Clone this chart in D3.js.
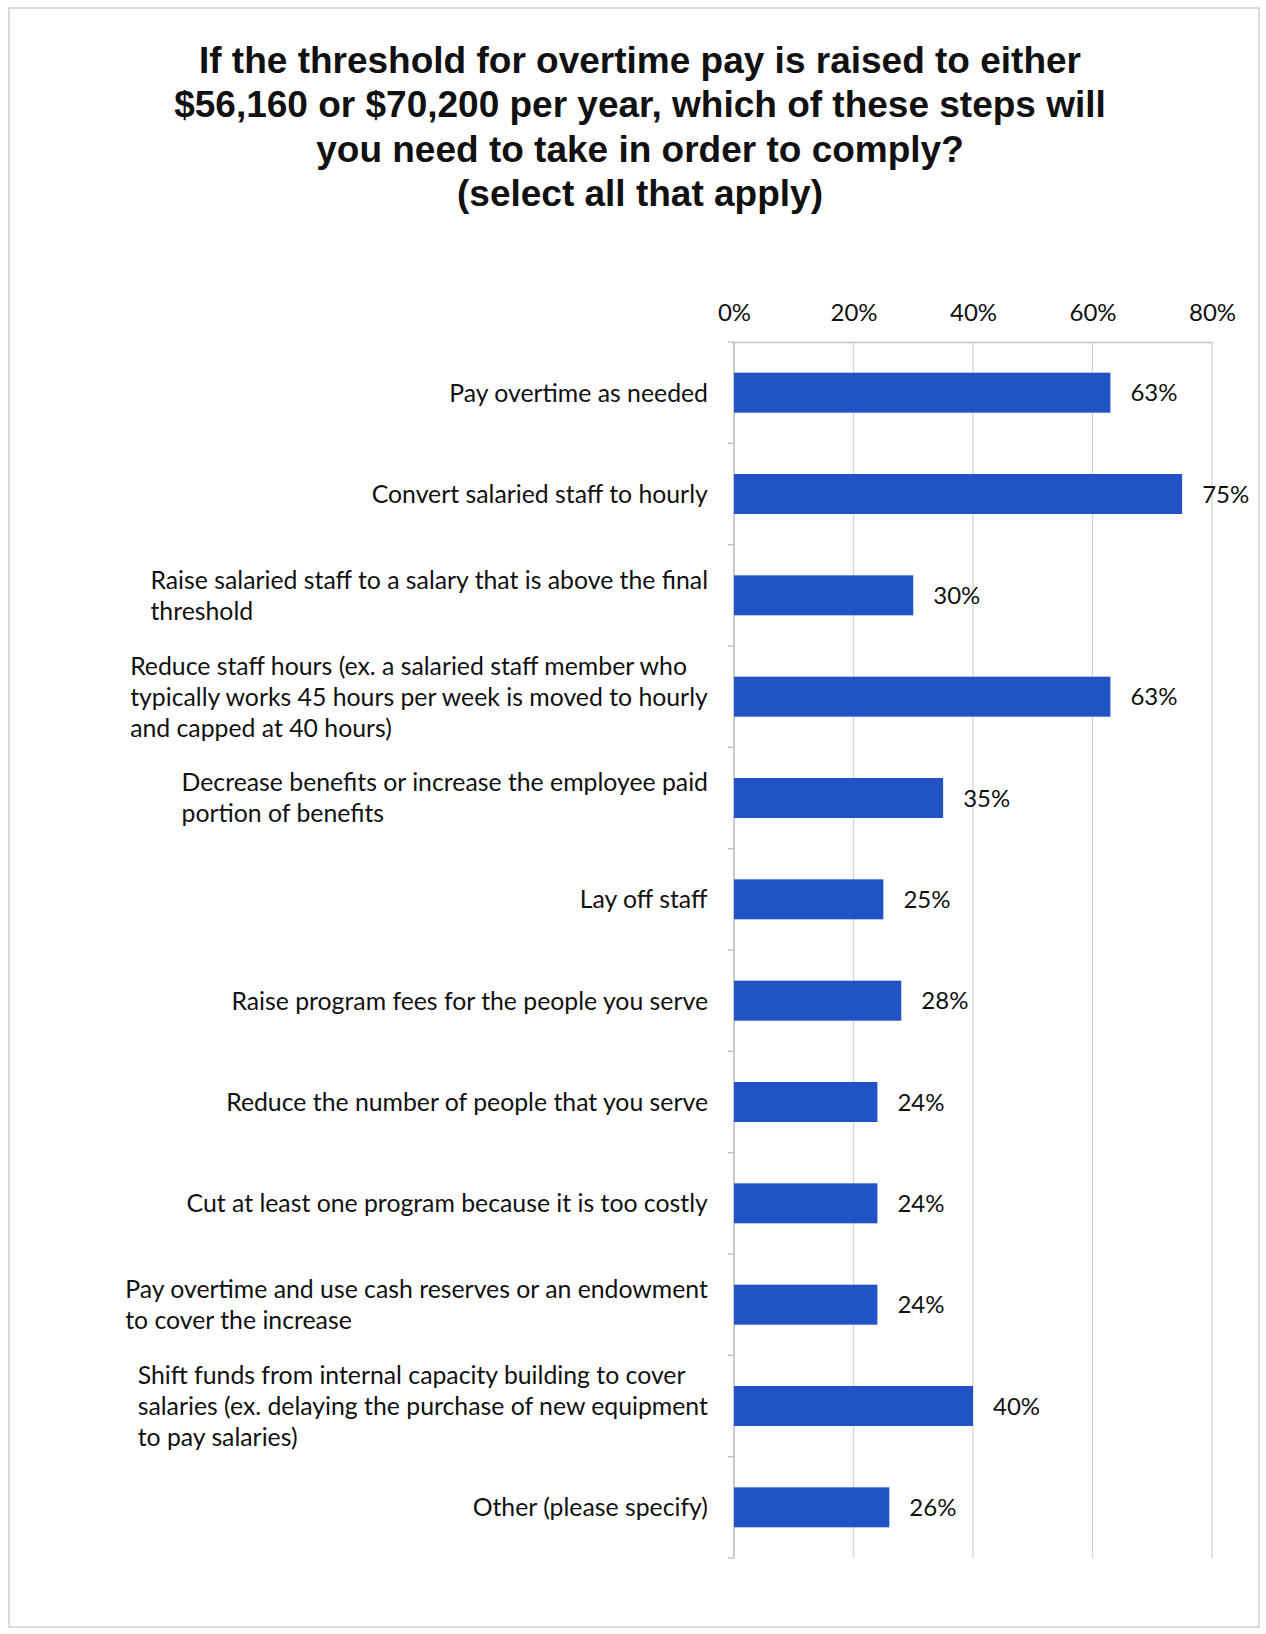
<!DOCTYPE html>
<html>
<head>
<meta charset="utf-8">
<script src="https://cdn.jsdelivr.net/npm/d3@7"></script>
<style>
  html, body { margin: 0; padding: 0; background: #fff; }
  svg { display: block; }
</style>
</head>
<body>
<svg id="chart" width="1266" height="1634"></svg>
<script>
const titleLines = [
  "If the threshold for overtime pay is raised to either",
  "$56,160 or $70,200 per year, which of these steps will",
  "you need to take in order to comply?",
  "(select all that apply)"
];
const categories = [
  "Pay overtime as needed",
  "Convert salaried staff to hourly",
  "Raise salaried staff to a salary that is above the final\nthreshold",
  "Reduce staff hours (ex. a salaried staff member who\ntypically works 45 hours per week is moved to hourly\nand capped at 40 hours)",
  "Decrease benefits or increase the employee paid\nportion of benefits",
  "Lay off staff",
  "Raise program fees for the people you serve",
  "Reduce the number of people that you serve",
  "Cut at least one program because it is too costly",
  "Pay overtime and use cash reserves or an endowment\nto cover the increase",
  "Shift funds from internal capacity building to cover\nsalaries (ex. delaying the purchase of new equipment\nto pay salaries)",
  "Other (please specify)"
];
const values = [63, 75, 30, 63, 35, 25, 28, 24, 24, 24, 40, 26];
const tickValues = [0, 20, 40, 60, 80];

const svg = d3.select("#chart");
const m = { left: 734, right: 1212, top: 342, bottom: 1558 };
const FONT = "Lato, 'Open Sans', sans-serif";

// frame
svg.append("rect").attr("x", 9).attr("y", 8).attr("width", 1250).attr("height", 1619)
  .attr("fill", "none").attr("stroke", "#cfcfcf").attr("stroke-width", 1.5);

// title
const title = svg.append("text")
  .attr("text-anchor", "middle")
  .attr("font-family", "'Liberation Sans', Arial, sans-serif")
  .attr("font-weight", "bold")
  .attr("font-size", 37)
  .attr("fill", "#111");
titleLines.forEach((t, i) => {
  title.append("tspan").attr("x", 640).attr("y", 73 + i * 44.3).text(t);
});

const x = d3.scaleLinear().domain([0, 80]).range([m.left, m.right]);
const y = d3.scaleBand().domain(d3.range(categories.length)).range([m.top, m.bottom]).paddingInner(0.6).paddingOuter(0.3);

// gridlines
svg.append("g").selectAll("line").data(tickValues).join("line")
  .attr("x1", d => x(d)).attr("x2", d => x(d))
  .attr("y1", m.top).attr("y2", m.bottom)
  .attr("stroke", "#d4d4d4").attr("stroke-width", 1.3);

// top axis
const xAxis = d3.axisTop(x).tickValues(tickValues).tickFormat(d => d + "%").tickSize(0).tickPadding(21);
const gx = svg.append("g").attr("transform", `translate(0,${m.top})`).call(xAxis);
gx.select(".domain").attr("stroke", "#c4c4c4").attr("stroke-width", 1.5);
gx.selectAll("text").attr("font-family", FONT).attr("font-size", 24).attr("fill", "#111");

// left axis line with ticks at band boundaries
const yAxisG = svg.append("g");
yAxisG.append("line").attr("x1", m.left).attr("x2", m.left).attr("y1", m.top).attr("y2", m.bottom)
  .attr("stroke", "#bdbdbd").attr("stroke-width", 1.3);
const step = (m.bottom - m.top) / categories.length;
yAxisG.selectAll("line.tk").data(d3.range(categories.length + 1)).join("line").attr("class", "tk")
  .attr("x1", m.left - 6).attr("x2", m.left)
  .attr("y1", d => m.top + d * step).attr("y2", d => m.top + d * step)
  .attr("stroke", "#bdbdbd").attr("stroke-width", 1.3);

// bars
svg.append("g").selectAll("rect").data(values).join("rect")
  .attr("x", x(0)).attr("y", (d, i) => y(i) + (y.bandwidth() - 40) / 2)
  .attr("width", d => x(d) - x(0)).attr("height", 40)
  .attr("fill", "#2153c6");

// value labels
svg.append("g").selectAll("text").data(values).join("text")
  .attr("x", d => x(d) + 20).attr("y", (d, i) => y(i) + y.bandwidth() / 2)
  .attr("dy", "0.36em")
  .attr("font-family", FONT).attr("font-size", 24).attr("fill", "#111")
  .text(d => d + "%");

// category labels: lines left-aligned in a block, block right-aligned
const labelRight = m.left - 26;
const lineH = 31;
const labG = svg.append("g");
categories.forEach((c, i) => {
  const lines = c.split("\n");
  const cy = y(i) + y.bandwidth() / 2;
  const t = labG.append("text")
    .attr("font-family", FONT).attr("font-size", 24.8).attr("fill", "#111");
  lines.forEach((ln, j) => {
    t.append("tspan").attr("x", 0).attr("y", cy + (j - (lines.length - 1) / 2) * lineH).attr("dy", "0.36em").text(ln);
  });
  const w = t.node().getBBox().width;
  t.attr("transform", `translate(${labelRight - w},0)`);
});
</script>
</body>
</html>
